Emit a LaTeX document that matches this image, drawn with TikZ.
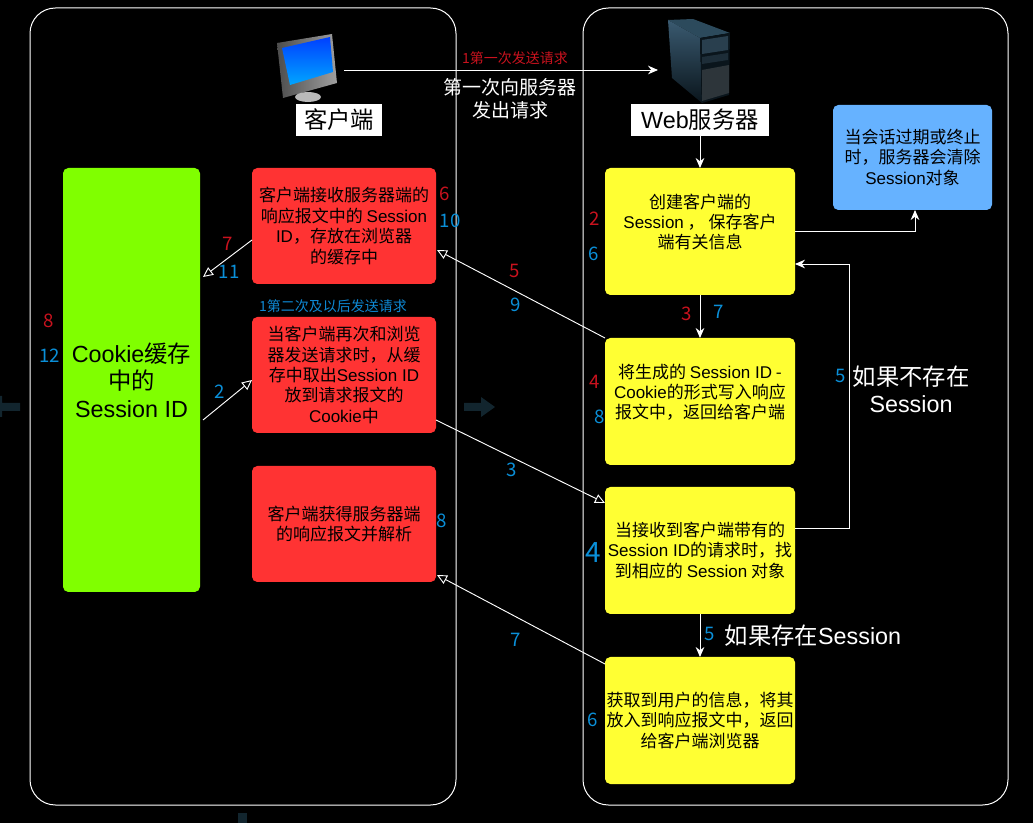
\documentclass[tikz,border=0pt]{standalone}
\usepackage{fontspec}
\setmainfont{Noto Sans CJK SC}
\newfontfamily\lat{Liberation Sans}
\usetikzlibrary{arrows.meta,positioning,shadings}
\definecolor{cyan1}{HTML}{0A8FD8}
\definecolor{red1}{HTML}{C9121E}
\definecolor{boxred}{HTML}{FF3333}
\definecolor{boxyellow}{HTML}{FFFF33}
\definecolor{boxgreen}{HTML}{80FF00}
\definecolor{boxblue}{HTML}{66B2FF}
\definecolor{ghost}{HTML}{12252E}
\definecolor{srvtop}{HTML}{2C4A5C}
\definecolor{srvside}{HTML}{3A5A70}
\definecolor{srvdark}{HTML}{0A151C}
\newcommand{\en}[1]{{\lat #1}}

\begin{document}
\begin{tikzpicture}[x=0.75pt,y=-0.75pt,
      panel/.style={draw=white,line width=0.75pt,rounded corners=19pt},
      rbox/.style={fill=boxred,rounded corners=4pt,minimum width=138pt,minimum height=87pt,
                   inner sep=0pt,outer sep=0pt,align=center,text=black,
                   font=\fontsize{12.75}{15.3}\selectfont},
      ybox/.style={rbox,fill=boxyellow,minimum width=142.5pt,minimum height=95.25pt},
      tagbox/.style={fill=white,text=black,inner sep=0pt,outer sep=0pt,minimum height=24pt,
                     font=\fontsize{17.5}{20}\selectfont},
      wtxt/.style={text=white,align=center,inner sep=0pt,font=\fontsize{17.5}{20.5}\selectfont},
      num/.style={text=cyan1,inner sep=0pt,font=\fontsize{14}{16}\selectfont},
      rnum/.style={num,text=red1},
      ghostarr/.style={fill=ghost,draw=none},
      wline/.style={draw=white,line width=0.7pt},
      harrow/.style={wline,-{Triangle[open,length=7.5pt,width=7pt]}},
      sarrow/.style={wline,-{Stealth[length=7.5pt,width=6.5pt]}}]
    \fill[black] (0,0) rectangle (1033,823);
    \useasboundingbox (0,0) rectangle (1033,823);
    % panels
    \draw[panel] (30,8) rectangle (456,805);
    \draw[panel] (583,8) rectangle (1008,805);
    % faint arrows
    \fill[ghostarr] (20,403) -- (2,403) -- (2,396) -- (0,396) -- (0,417) -- (2,417) -- (2,411) -- (20,411) -- cycle;
    \fill[ghostarr] (464,403) -- (481,403) -- (481,397) -- (495,407) -- (481,417) -- (481,411) -- (464,411) -- cycle;
    \fill[ghostarr] (238,813) rectangle (247,823);
    % monitor
    \shade[left color=gray!60!black,right color=gray!75] (277,43) -- (332,34) -- (337,83) -- (283,98) -- cycle;
    \shade[top color=blue!75!cyan,bottom color=cyan!65!blue] (282,48) -- (330,37) -- (333,72) -- (290,85) -- cycle;
    \fill[gray!55] (308,97) ellipse (13 and 5);
    % server
    \fill[srvtop] (668,20) -- (693,19) -- (730,33) -- (700,38) -- cycle;
    \shade[top color=srvside,bottom color=srvdark] (668,20) -- (700,38) -- (702,103) -- (672,78) -- cycle;
    \fill[srvdark] (700,38) -- (730,33) -- (729,95) -- (702,103) -- cycle;
    \fill[srvside!70!black] (702,40) -- (728,36) -- (728,50) -- (702,54) -- cycle;
    \fill[srvside!50!black] (702,57) -- (728,53) -- (728,60) -- (702,64) -- cycle;
    \fill[gray!30!srvdark] (702,70) -- (729,65) -- (729,93) -- (702,101) -- cycle;
    % boxes
    \node[tagbox,minimum width=64.5pt] (client) at (339,120) {客户端};
    \node[tagbox,minimum width=103.5pt] (server) at (700,120) {\en{Web}服务器};
    \node[rbox,fill=boxgreen,minimum width=102.75pt,minimum height=318pt,
          font=\fontsize{17.5}{20.6}\selectfont] (cookie) at (131.5,380) {\en{Cookie}缓存\\中的\\\en{Session ID}};
    \node[rbox] (reda) at (344,226) {客户端接收服务器端的\\响应报文中的 \en{Session}\\\en{ID}，存放在浏览器\\的缓存中};
    \node[rbox,below=24.75pt of reda] (redb) {当客户端再次和浏览\\器发送请求时，从缓\\存中取出\en{Session ID}\\放到请求报文的\\\en{Cookie}中};
    \node[rbox,below=24.75pt of redb] (redc) {客户端获得服务器端\\的响应报文并解析};
    \node[ybox] (yellowa) at (700,231.5) {创建客户端的\\\en{Session} ， 保存客户\\端有关信息\\[0pt]};
    \node[ybox,below=32.25pt of yellowa] (yellowb) {将生成的 \en{Session ID} -\\\en{Cookie}的形式写入响应\\报文中，返回给客户端\\[0pt]};
    \node[ybox,below=16.5pt of yellowb] (yellowc) {当接收到客户端带有的\\\en{Session ID}的请求时，找\\到相应的 \en{Session} 对象};
    \node[ybox,below=32.25pt of yellowc] (yellowd) {获取到用户的信息，将其\\放入到响应报文中，返回\\给客户端浏览器};
    \node[rbox,fill=boxblue,minimum width=119.25pt,minimum height=78.75pt] (bluebox) at (912.5,157.5) {当会话过期或终止\\时，服务器会清除\\ \en{Session}对象};
    % free ends
    \coordinate (pcout) at (344,70);
    \coordinate (srvin) at (658,70);
    \coordinate (ya1) at (605,338);
    \coordinate (ra1) at (437,250);
    \coordinate (rb1) at (436,420);
    \coordinate (yc1) at (605,503);
    \coordinate (yd1) at (605,664);
    \coordinate (rc1) at (437,575);
    \coordinate (ca1) at (203,277);
    \coordinate (ca2) at (203,420);
    \coordinate (ra2) at (252,240);
    \coordinate (rb2) at (252,380);
    \coordinate (yc2) at (795,528);
    \coordinate (ya2) at (795,264);
    \coordinate (bl1) at (915,210);
    % connectors
    \draw[sarrow] (pcout) -- (srvin);
    \draw[sarrow] (server) -- (yellowa);
    \draw[sarrow] (yellowa) -- (yellowb);
    \draw[sarrow] (yellowc) -- (yellowd);
    \draw[sarrow] (yellowa.east) -| (bl1);
    \draw[sarrow] (yc2) -- (849,528) -- (849,264) -- (ya2);
    \draw[harrow] (ya1) -- (ra1);
    \draw[harrow] (rb1) -- (yc1);
    \draw[harrow] (yd1) -- (rc1);
    \draw[harrow] (ra2) -- (ca1);
    \draw[harrow] (ca2) -- (rb2);
    % labels
    \node[rnum,font=\fontsize{10.5}{12}\selectfont] (first) at (515,58) {1第一次发送请求};
    \node[num,text=cyan!70!blue,font=\fontsize{10.5}{12}\selectfont] (second) at (333,306) {1第二次及以后发送请求};
    \node[wtxt,font=\fontsize{14.25}{17.5}\selectfont] (firstreq) at (510,99) {第一次向服务器\\发出请求};
    \node[wtxt] (nosession) at (911,389) {如果不存在\\\en{Session}\hspace{5pt}};
    \node[wtxt] (hassession) at (813,636) {如果存在\en{Session}};
    \node[rnum] (n6r) at (445,194) {6};
    \node[num] (n10) at (450,221) {10};
    \node[rnum] (n7r) at (228,244) {7};
    \node[num] (n11) at (229,272) {11};
    \node[rnum] (n8r) at (49,321) {8};
    \node[num] (n12) at (50,356) {12};
    \node[num] (n2b) at (220,392) {2};
    \node[rnum] (n5r) at (515,271) {5};
    \node[num] (n9) at (516,305) {9};
    \node[rnum] (n2r) at (595,219) {2};
    \node[num] (n6b) at (594,254) {6};
    \node[rnum] (n3r) at (687,314) {3};
    \node[num] (n7b) at (719,312) {7};
    \node[rnum] (n4r) at (595,382) {4};
    \node[num] (n8b) at (600,417) {8};
    \node[num] (n5b) at (841,376) {5};
    \node[num] (n3b) at (512,470) {3};
    \node[num,font=\fontsize{21}{24}\selectfont] (n4b) at (593,553) {4};
    \node[num] (n5c) at (710,634) {5};
    \node[num] (n6c) at (593,720) {6};
    \node[num] (n7c) at (516,640) {7};
    \node[num] (n8c) at (442,521) {8};
  \end{tikzpicture}
\end{document}
